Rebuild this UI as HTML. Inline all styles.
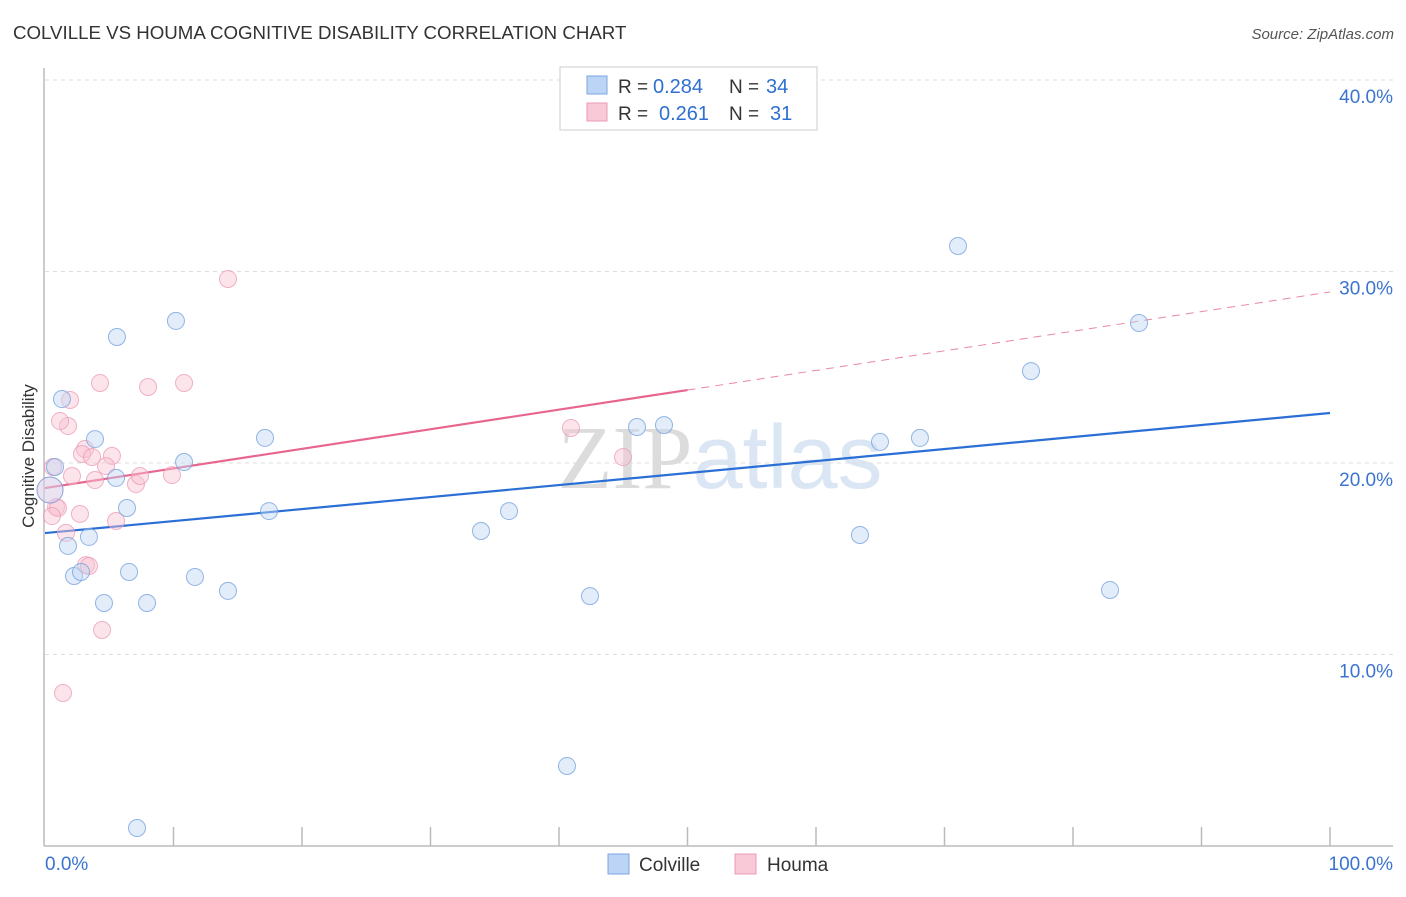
<!DOCTYPE html>
<html><head><meta charset="utf-8"><style>
body{margin:0;background:#fff;font-family:"Liberation Sans",sans-serif;}
svg text{font-family:"Liberation Sans",sans-serif;}
</style></head><body>
<svg id="chart" width="1406" height="892" xmlns="http://www.w3.org/2000/svg">
<text x="13" y="39" font-size="18.7" fill="#333">COLVILLE VS HOUMA COGNITIVE DISABILITY CORRELATION CHART</text>
<text x="1394" y="39" font-size="15" fill="#555" text-anchor="end" font-style="italic">Source: ZipAtlas.com</text>
<text x="720" y="488" font-size="90" text-anchor="middle" fill="#e4e4e4"><tspan font-family="Liberation Serif" fill="#dcdcdc">ZIP</tspan><tspan fill="#dbe6f4">atlas</tspan></text>
<g id="grid"></g>
<g id="axes"></g>
<g id="lines"></g>
<g id="pts"></g>
<text transform="translate(34,456) rotate(-90)" font-size="17" fill="#333" text-anchor="middle">Cognitive Disability</text>
<g>
<rect x="560" y="67" width="257" height="63" fill="#fff" stroke="#ccc"/>
<rect x="587" y="76" width="20" height="18" fill="#bcd4f5" stroke="#7aa6e0"/>
<rect x="587" y="103" width="20" height="18" fill="#f9c9d7" stroke="#ec9ab3"/>
<text x="618" y="93" font-size="19" fill="#333">R =</text>
<text x="653" y="93" font-size="20" fill="#2f6fd0">0.284</text>
<text x="729" y="93" font-size="19" fill="#333">N =</text>
<text x="766" y="93" font-size="20" fill="#2f6fd0">34</text>
<text x="618" y="120" font-size="19" fill="#333">R =</text>
<text x="659" y="120" font-size="20" fill="#2f6fd0">0.261</text>
<text x="729" y="120" font-size="19" fill="#333">N =</text>
<text x="770" y="120" font-size="20" fill="#2f6fd0">31</text>
</g>
<g>
<rect x="608" y="854" width="21" height="20" fill="#bcd4f5" stroke="#7aa6e0"/>
<text x="639" y="871" font-size="19" fill="#333">Colville</text>
<rect x="735" y="854" width="21" height="20" fill="#f9c9d7" stroke="#ec9ab3"/>
<text x="767" y="871" font-size="19" fill="#333">Houma</text>
</g>
</svg>
<script>
const blueX=[0.78,1.32,3.89,5.60,10.19,10.82,5.53,6.38,3.42,1.79,2.26,2.80,6.54,4.59,7.94,11.67,14.24,17.12,17.43,33.93,36.11,42.41,40.62,7.16,46.07,48.17,63.42,64.98,68.09,71.05,76.73,85.14,82.88,0.39];
const blueY=[19.79,23.34,21.25,26.58,27.42,20.05,19.22,17.65,16.14,15.67,14.10,14.31,14.31,12.69,12.69,14.05,13.32,21.31,17.49,16.45,17.49,13.05,4.18,0.94,21.88,21.98,16.24,21.10,21.31,31.33,24.80,27.31,13.37,18.59];
const pinkX=[0.62,1.95,1.79,1.17,4.28,8.02,10.82,14.24,3.11,2.88,3.66,5.21,4.75,2.10,3.89,7.08,7.39,9.88,0.86,1.01,0.54,2.72,1.63,5.53,3.19,3.42,4.44,1.40,40.93,44.98,0.39];
const pinkY=[19.79,23.29,21.93,22.19,24.18,23.97,24.18,29.61,20.73,20.47,20.31,20.37,19.84,19.32,19.11,18.90,19.32,19.37,17.70,17.65,17.23,17.34,16.35,16.97,14.67,14.62,11.28,7.99,21.83,20.31,18.59];
const blueTrend=[16.34,22.61];
const pinkTrend=[18.69,28.93];
const yTicks=[10,20,30,40];
const yTickLabels=["10.0%","20.0%","30.0%","40.0%"];
const NS="http://www.w3.org/2000/svg";
const xs=v=>45+v*12.85, ys=v=>846-v*19.15;
function mk(tag,at,parent){const e=document.createElementNS(NS,tag);for(const k in at)e.setAttribute(k,at[k]);document.getElementById(parent).appendChild(e);return e;}
yTicks.forEach((t,i)=>{
 const g=mk('line',{x1:45,x2:1393,y1:ys(t),y2:ys(t),stroke:'#ddd','stroke-dasharray':'4,4'},'grid');
 
 
 const l=mk('text',{x:1393,y:ys(t)+23,'font-size':19,fill:'#3b74d0','text-anchor':'end'},'grid');
 l.textContent=yTickLabels[i];
 
 
});
let a=mk('line',{x1:44,x2:44,y1:68,y2:846,stroke:'#bbb','stroke-width':1.5},'axes');


a=mk('line',{x1:44,x2:1393,y1:846,y2:846,stroke:'#bbb','stroke-width':1.5},'axes');


for(let i=1;i<=10;i++){const t=mk('line',{x1:xs(i*10),x2:xs(i*10),y1:827,y2:846,stroke:'#bbb','stroke-width':1.5},'axes');
 
 }
let xl=mk('text',{x:45,y:870,'font-size':19,fill:'#3b74d0'},'axes');xl.textContent='0.0%';


xl=mk('text',{x:1393,y:870,'font-size':19,fill:'#3b74d0','text-anchor':'end'},'axes');xl.textContent='100.0%';


function pts(X,Y,fill,stroke,name){X.forEach((x,i)=>{const big=i===X.length-1;
 const c=mk('circle',{cx:xs(x),cy:ys(Y[i]),r:big?13:8.5,fill:fill,'fill-opacity':big?0.35:0.45,stroke:stroke,'stroke-opacity':0.75,'stroke-width':1},'pts');
 
 });}
pts(pinkX,pinkY,'#f8c3d3','#eb9ab4','houma-point');
pts(blueX,blueY,'#c2d7f5','#6f9ddd','colville-point');
let ln=mk('line',{x1:xs(0),y1:ys(blueTrend[0]),x2:xs(100),y2:ys(blueTrend[1]),stroke:'#2b6fd6','stroke-width':2.2},'lines');


const pm=v=>pinkTrend[0]+(pinkTrend[1]-pinkTrend[0])*v/100;
ln=mk('line',{x1:xs(0),y1:ys(pm(0)),x2:xs(50),y2:ys(pm(50)),stroke:'#e8668e','stroke-width':2.2},'lines');


ln=mk('line',{x1:xs(50),y1:ys(pm(50)),x2:xs(100),y2:ys(pm(100)),stroke:'#e8889f','stroke-width':1,'stroke-dasharray':'8,6'},'lines');


</script>
</body></html>
